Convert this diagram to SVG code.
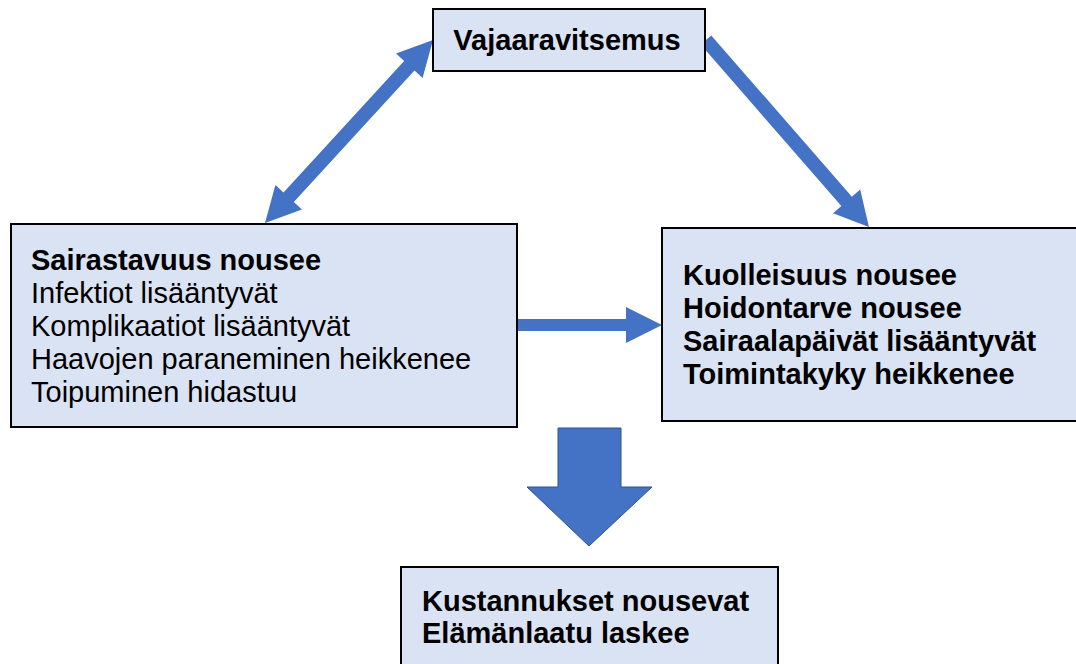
<svg xmlns="http://www.w3.org/2000/svg" width="1076" height="664" viewBox="0 0 1076 664">
<style>
.box{fill:#DAE3F3;stroke:#000;stroke-width:2}
.t{font-family:"Liberation Sans",Arial,sans-serif;font-size:29px;fill:#000}
.b{font-weight:bold}
.arr{fill:#4472C4}
</style>
<rect width="1076" height="664" fill="#fff"/>
<g id="connectors">
<polygon class="arr" transform="translate(265,223) rotate(-47.45)" points="0,0 35,-18 35,-7 213.4,-7 213.4,-18 248.4,0 213.4,18 213.4,7 35,7 35,18"/>
<polygon class="arr" transform="translate(706,40) rotate(48.92)" points="0,-7 214,-7 214,-18 248,0 214,18 214,7 0,7"/>
<polygon class="arr" points="516,319 626,319 626,307 662,325 626,343 626,331 516,331"/>
<polygon class="arr" stroke="#2F528F" stroke-width="1" points="558,428 621,428 621,487 652,487 589,546 527,487 558,487"/>
</g>
<g id="vajaaravitsemus">
<rect class="box" x="433" y="9" width="272" height="62"/>
<text class="t b" x="567" y="50" text-anchor="middle">Vajaaravitsemus</text>
</g>
<g id="sairastavuus">
<rect class="box" x="11" y="224" width="506" height="203"/>
<text class="t">
<tspan class="b" x="31" y="270">Sairastavuus nousee</tspan>
<tspan x="31" y="303">Infektiot lisääntyvät</tspan>
<tspan x="31" y="336">Komplikaatiot lisääntyvät</tspan>
<tspan x="31" y="369">Haavojen paraneminen heikkenee</tspan>
<tspan x="31" y="402">Toipuminen hidastuu</tspan>
</text>
</g>
<g id="kuolleisuus">
<rect class="box" x="662" y="228" width="430" height="193"/>
<text class="t b">
<tspan x="683" y="285">Kuolleisuus nousee</tspan>
<tspan x="683" y="318">Hoidontarve nousee</tspan>
<tspan x="683" y="351">Sairaalapäivät lisääntyvät</tspan>
<tspan x="683" y="384">Toimintakyky heikkenee</tspan>
</text>
</g>
<g id="kustannukset">
<rect class="box" x="401" y="567" width="377" height="110"/>
<text class="t b">
<tspan x="422" y="611">Kustannukset nousevat</tspan>
<tspan x="422" y="643">Elämänlaatu laskee</tspan>
</text>
</g>
</svg>
